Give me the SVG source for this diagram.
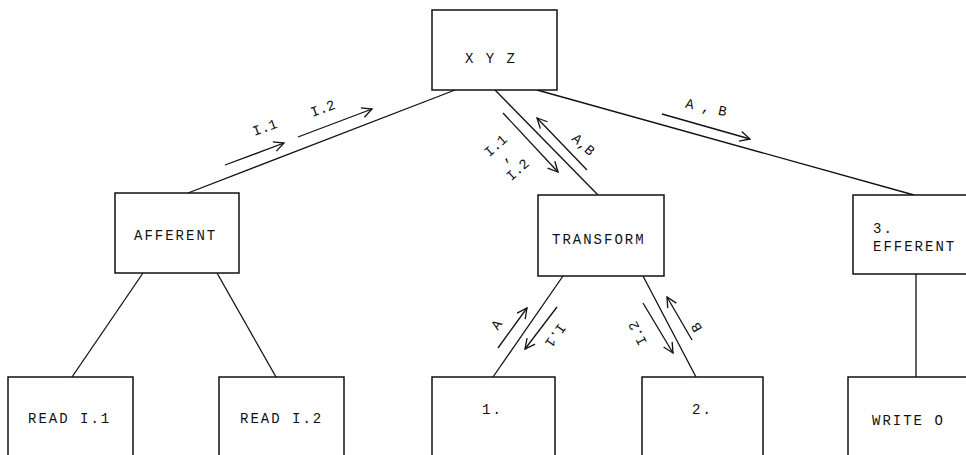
<svg xmlns="http://www.w3.org/2000/svg" width="966" height="455" viewBox="0 0 966 455">
<style>
.box{fill:#fff;stroke:#111;stroke-width:1.5}
.ln{fill:none;stroke:#111;stroke-width:1.3}
.ar{fill:none;stroke:#111;stroke-width:1.3;marker-end:url(#ah)}
.t{font-family:"Liberation Mono","DejaVu Sans Mono",monospace;font-size:14px;letter-spacing:2px;fill:#111}
.l{font-family:"Liberation Mono","DejaVu Sans Mono",monospace;font-size:14px;fill:#111;text-anchor:middle;dominant-baseline:central}
</style>
<defs>
<marker id="ah" markerWidth="14" markerHeight="14" refX="11" refY="6" orient="auto" markerUnits="userSpaceOnUse">
<path d="M1,1 L11,6 L1,11" fill="none" stroke="#111" stroke-width="1.3"/>
</marker>
</defs>
<g id="connectors">
<line class="ln" x1="455" y1="90" x2="188" y2="193"/>
<line class="ln" x1="495" y1="90" x2="598" y2="195"/>
<line class="ln" x1="537" y1="90" x2="914" y2="195"/>
<line class="ln" x1="143" y1="273" x2="72" y2="377"/>
<line class="ln" x1="217" y1="273" x2="276" y2="377"/>
<line class="ln" x1="563" y1="276" x2="493" y2="377"/>
<line class="ln" x1="643" y1="276" x2="696" y2="377"/>
<line class="ln" x1="916" y1="274" x2="916" y2="377"/>
<line class="ar" x1="225" y1="165" x2="284" y2="143"/>
<line class="ar" x1="298" y1="137" x2="372" y2="109"/>
<line class="ar" x1="503" y1="113" x2="558" y2="172"/>
<line class="ar" x1="587" y1="170" x2="537" y2="118"/>
<line class="ar" x1="662" y1="114" x2="750" y2="139"/>
<line class="ar" x1="498" y1="348" x2="527" y2="308"/>
<line class="ar" x1="557" y1="307" x2="525" y2="349"/>
<line class="ar" x1="643" y1="303" x2="673" y2="353"/>
<line class="ar" x1="692" y1="340" x2="667" y2="297"/>
<text class="l" transform="translate(265,128) rotate(-20)">I.1</text>
<text class="l" transform="translate(323,109) rotate(-20)">I.2</text>
<text class="l" transform="translate(496,146) rotate(-42)">I.1</text>
<text class="l" transform="translate(505,157) rotate(-42)">,</text>
<text class="l" transform="translate(518,170) rotate(-42)">I.2</text>
<text class="l" transform="translate(583,145) rotate(42)">A,B</text>
<text class="l" transform="translate(706,108) rotate(12)">A , B</text>
<text class="l" transform="translate(497,325) rotate(-55)">A</text>
<text class="l" transform="translate(555,335) rotate(125)">I.1</text>
<text class="l" transform="translate(638,333) rotate(-117)">I.2</text>
<text class="l" transform="translate(697,327) rotate(-120)">B</text>
</g>
<g id="xyz"><rect class="box" x="432" y="10" width="125" height="80"/><text class="t" x="465" y="63">X Y Z</text></g>
<g id="afferent"><rect class="box" x="115" y="193" width="124" height="80"/><text class="t" x="134" y="240">AFFERENT</text></g>
<g id="transform"><rect class="box" x="538" y="195" width="126" height="81"/><text class="t" x="552" y="244">TRANSFORM</text></g>
<g id="efferent"><rect class="box" x="853" y="195" width="130" height="79"/><text class="t" x="873" y="233">3.</text><text class="t" x="873" y="251">EFFERENT</text></g>
<g id="read1"><rect class="box" x="8" y="377" width="125" height="100"/><text class="t" x="28" y="423">READ I.1</text></g>
<g id="read2"><rect class="box" x="219" y="377" width="125" height="100"/><text class="t" x="240" y="423">READ I.2</text></g>
<g id="n1"><rect class="box" x="432" y="377" width="123" height="100"/><text class="t" x="482" y="414">1.</text></g>
<g id="n2"><rect class="box" x="642" y="377" width="121" height="100"/><text class="t" x="692" y="414">2.</text></g>
<g id="write"><rect class="box" x="848" y="377" width="135" height="100"/><text class="t" x="872" y="425">WRITE O</text></g>
</svg>
